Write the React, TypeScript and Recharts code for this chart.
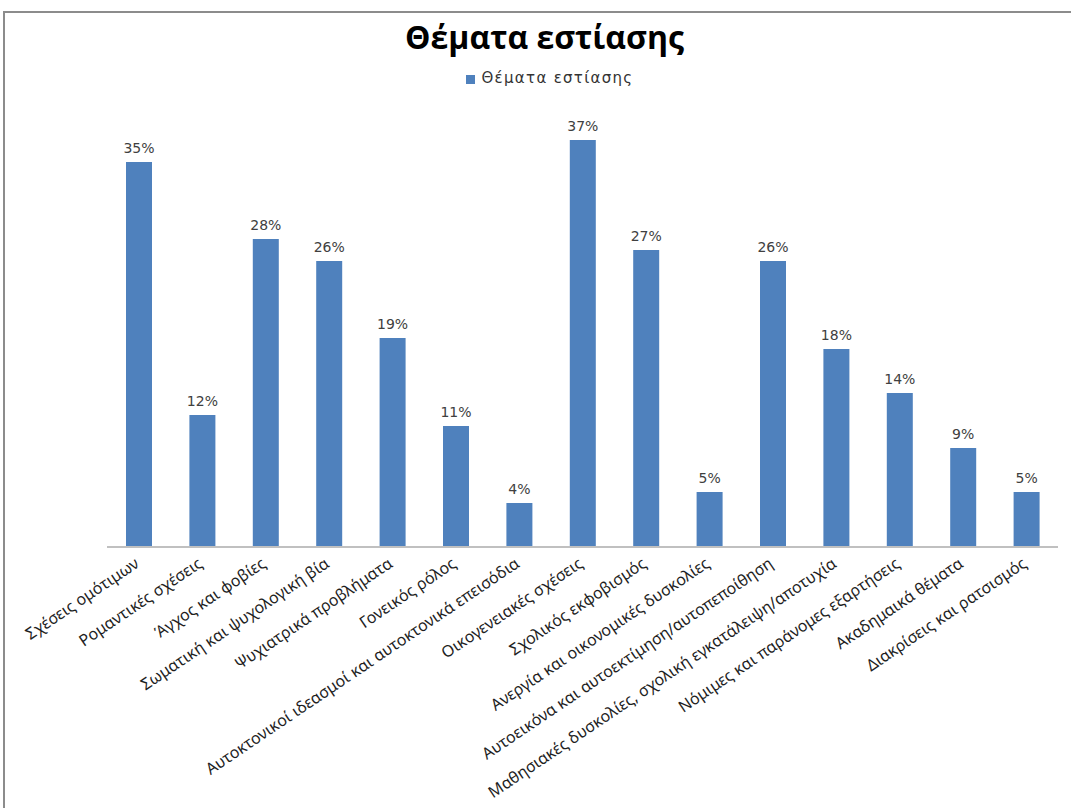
import { BarChart, Bar, XAxis, YAxis, Legend, LabelList } from "recharts";

const categories = [
  "Σχέσεις ομότιμων",
  "Ρομαντικές σχέσεις",
  "Άγχος και φοβίες",
  "Σωματική και ψυχολογική βία",
  "Ψυχιατρικά προβλήματα",
  "Γονεικός ρόλος",
  "Αυτοκτονικοί ιδεασμοί και αυτοκτονικά επεισόδια",
  "Οικογενειακές σχέσεις",
  "Σχολικός εκφοβισμός",
  "Ανεργία και οικονομικές δυσκολίες",
  "Αυτοεικόνα και αυτοεκτίμηση/αυτοπεποίθηση",
  "Μαθησιακές δυσκολίες, σχολική εγκατάλειψη/αποτυχία",
  "Νόμιμες και παράνομες εξαρτήσεις",
  "Ακαδημαικά θέματα",
  "Διακρίσεις και ρατσισμός",
];

const percentages = [35, 12, 28, 26, 19, 11, 4, 37, 27, 5, 26, 18, 14, 9, 5];

const seriesName = "Θέματα εστίασης";

const data = categories.map((topic, i) => ({
  topic,
  value: percentages[i],
}));

function AngledTick({ x, y, payload }: any) {
  return (
    <g transform={`translate(${x},${y})`}>
      <text
        x={-5}
        y={0}
        dy={10}
        textAnchor="end"
        transform="rotate(-34)"
        fill="#1f1f1f"
        fontSize={16}
        fontFamily="Noto Sans"
      >
        {payload.value}
      </text>
    </g>
  );
}

export default function App() {
  return (
    <div
      style={{
        position: "absolute",
        left: 0,
        top: 0,
        width: 1071,
        height: 808,
        overflow: "hidden",
        background: "#fff",
      }}
    >
      <div
        style={{
          position: "absolute",
          left: 3,
          top: 11,
          width: 1200,
          height: 1000,
          border: "2px solid #8c8c8c",
        }}
      />
      <div
        style={{
          position: "absolute",
          left: 0,
          top: 15,
          width: 1089,
          textAlign: "center",
          fontFamily: "Open Sans",
          fontWeight: 700,
          fontSize: 32,
          color: "#000",
        }}
      >
        {seriesName}
      </div>
      <BarChart
        width={1071}
        height={808}
        data={data}
        margin={{ top: 89, right: 13, bottom: 21, left: 107 }}
        style={{ position: "absolute", left: 0, top: 0 }}
      >
        <XAxis
          dataKey="topic"
          interval={0}
          height={240}
          tickLine={false}
          axisLine={{ stroke: "#c0c0c0", strokeWidth: 2 }}
          tick={<AngledTick />}
        />
        <YAxis hide domain={[0, 40]} />
        <Legend
          verticalAlign="top"
          align="center"
          iconType="square"
          iconSize={9}
          wrapperStyle={{
            top: 69,
            left: 10,
            width: 1089,
            height: 18,
            lineHeight: "18px",
          }}
          formatter={(v: string) => (
            <span
              style={{
                color: "#333",
                fontFamily: "DejaVu Sans",
                fontSize: 15,
                letterSpacing: 1.3,
                marginLeft: 3,
              }}
            >
              {v}
            </span>
          )}
        />
        <Bar
          dataKey="value"
          name={seriesName}
          fill="#4f81bd"
          barSize={26}
          isAnimationActive={false}
        >
          <LabelList
            dataKey="value"
            position="top"
            offset={9}
            formatter={(v: any) => `${v}%`}
            fill="#404040"
            fontSize={14}
            fontFamily="DejaVu Sans"
          />
        </Bar>
      </BarChart>
    </div>
  );
}
